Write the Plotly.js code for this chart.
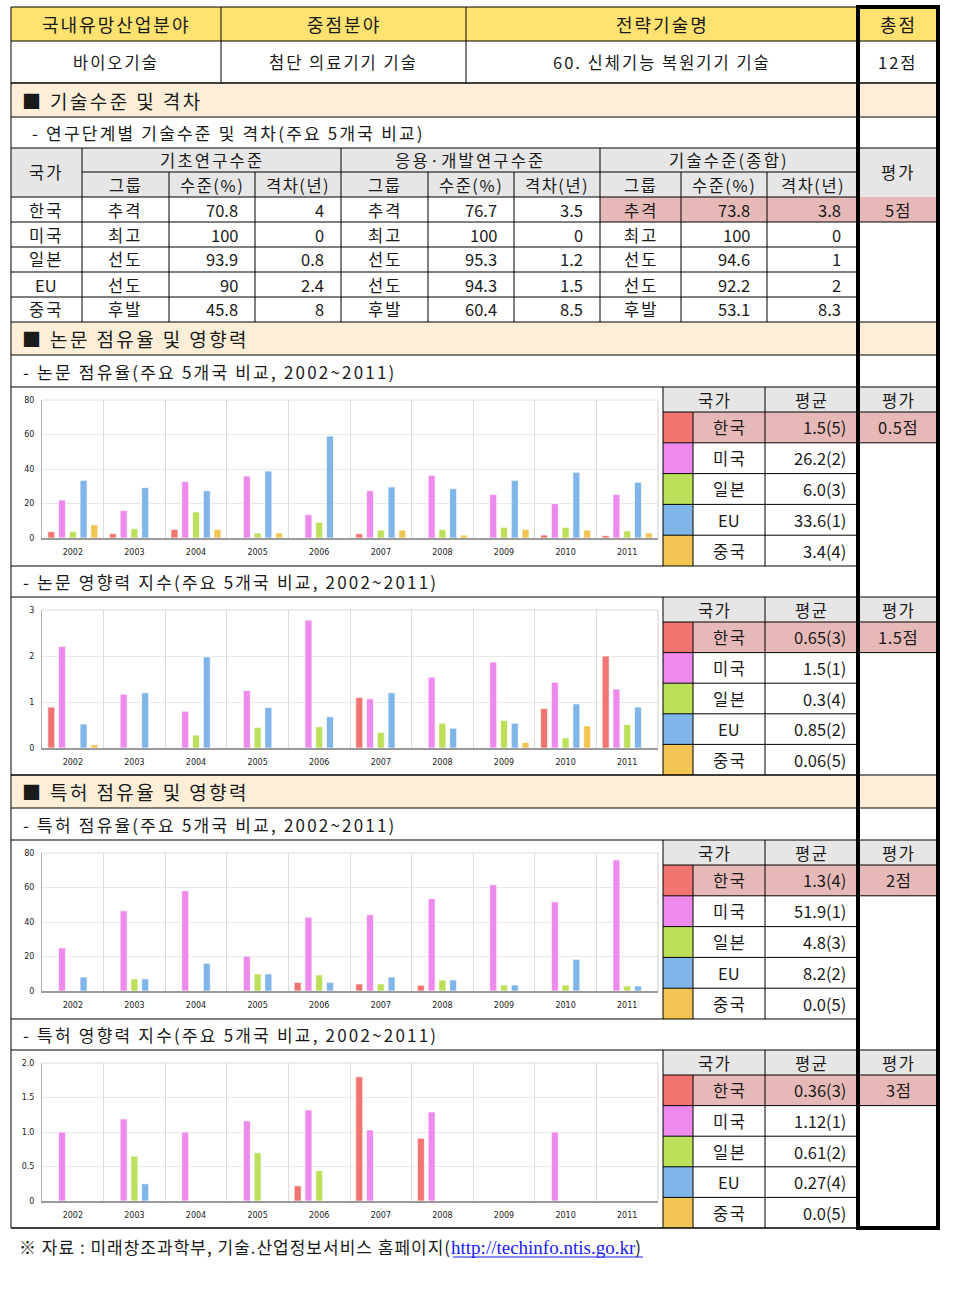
<!DOCTYPE html>
<html><head><meta charset="utf-8">
<script src="https://cdn.plot.ly/plotly-3.0.1.min.js"></script>
<style>body{margin:0;background:#fff}#chart{width:953px;height:1291px}</style>
</head><body><div id="chart"></div>
<script>
// ---------------- DATA ----------------
const years = ['2002','2003','2004','2005','2006','2007','2008','2009','2010','2011'];
const countries = ['한국','미국','일본','EU','중국'];

// header
const headerLabels = ['국내유망산업분야','중점분야','전략기술명','총점'];
const headerValues = ['바이오기술','첨단 의료기기 기술','60. 신체기능 복원기기 기술','12점'];

// technology level table
const levelGroupTitles = ['기초연구수준','응용·개발연구수준','기술수준(종합)'];
const levelSubTitles = ['그룹','수준(%)','격차(년)'];
const basicGroup = ['추격','최고','선도','선도','후발'];
const basicLevel = ['70.8','100','93.9','90','45.8'];
const basicGap = ['4','0','0.8','2.4','8'];
const appliedGroup = ['추격','최고','선도','선도','후발'];
const appliedLevel = ['76.7','100','95.3','94.3','60.4'];
const appliedGap = ['3.5','0','1.2','1.5','8.5'];
const totalGroup = ['추격','최고','선도','선도','후발'];
const totalLevel = ['73.8','100','94.6','92.2','53.1'];
const totalGap = ['3.8','0','1','2','8.3'];
const levelScore = '5점';

// section / subtitle texts
const sectionTitles = ['■ 기술수준 및 격차','■ 논문 점유율 및 영향력','■ 특허 점유율 및 영향력'];
const subTitles = ['- 연구단계별 기술수준 및 격차(주요 5개국 비교)',
  '- 논문 점유율(주요 5개국 비교, 2002~2011)','- 논문 영향력 지수(주요 5개국 비교, 2002~2011)',
  '- 특허 점유율(주요 5개국 비교, 2002~2011)','- 특허 영향력 지수(주요 5개국 비교, 2002~2011)'];

// chart series: rows = 한국, 미국, 일본, EU, 중국
const paperShare = [
  [3.7,2.5,5.0,0,0,2.5,0,0,1.7,1.4],
  [22.0,16.0,32.7,35.9,13.5,27.4,36.3,25.3,19.9,25.3],
  [3.7,5.4,15.1,2.9,9.1,4.6,5.0,6.2,6.2,4.1],
  [33.4,29.2,27.4,38.8,59.1,29.6,28.6,33.4,38.1,32.3],
  [7.7,0,5.0,2.9,0,4.6,1.7,5.0,4.6,2.9]
];
const paperImpact = [
  [0.89,0,0,0,0,1.10,0,0,0.86,2.0],
  [2.21,1.17,0.80,1.25,2.78,1.07,1.54,1.87,1.43,1.28],
  [0,0,0.28,0.45,0.46,0.34,0.54,0.60,0.22,0.51],
  [0.52,1.20,1.98,0.88,0.68,1.20,0.43,0.54,0.96,0.89],
  [0.07,0,0,0,0,0,0,0.12,0.48,0]
];
const patentShare = [
  [0,0,0,0,5.0,4.1,3.3,0,0,0],
  [25.0,46.5,58.1,20.2,42.8,44.2,53.5,61.6,51.7,76.0],
  [0,7.0,0,9.9,9.3,4.1,6.4,3.5,3.5,2.9],
  [8.1,7.0,16.1,9.9,5.0,8.1,6.4,3.5,18.4,2.9],
  [0,0,0,0,0,0,0,0,0,0]
];
const patentImpact = [
  [0,0,0,0,0.22,1.80,0.91,0,0,0],
  [1.0,1.19,1.0,1.16,1.32,1.03,1.29,0,1.0,0],
  [0,0.65,0,0.70,0.44,0,0,0,0,0],
  [0,0.25,0,0,0,0,0,0,0,0],
  [0,0,0,0,0,0,0,0,0,0]
];
const yTicks80 = [0,20,40,60,80];
const yTickText80 = ['0','20','40','60','80'];
const yTicks3 = [0,1,2,3];
const yTickText3 = ['0','1','2','3'];
const yTicks2 = [0,0.5,1,1.5,2];
const yTickText2 = ['0','0.5','1.0','1.5','2.0'];

// mini tables
const miniHeaders = ['국가','평균','평가'];
const paperShareAvg = ['1.5(5)','26.2(2)','6.0(3)','33.6(1)','3.4(4)'];
const paperImpactAvg = ['0.65(3)','1.5(1)','0.3(4)','0.85(2)','0.06(5)'];
const patentShareAvg = ['1.3(4)','51.9(1)','4.8(3)','8.2(2)','0.0(5)'];
const patentImpactAvg = ['0.36(3)','1.12(1)','0.61(2)','0.27(4)','0.0(5)'];
const chartScores = ['0.5점','1.5점','2점','3점'];

const sourceText = '※ 자료 : 미래창조과학부, 기술.산업정보서비스 홈페이지(';
const sourceUrl = 'http://techinfo.ntis.go.kr';

// ---------------- STYLE ----------------
const countryColors = ['#F07470','#EE8AEB','#BDE05A','#80B5EA','#F2C452'];
const YELLOW = '#FFE26F', BEIGE = '#FDEFD7', GRAY = '#E6E6E6', PINK = '#E6B8B7';
const F = 'Noto Sans CJK KR';
const TXT = '#1a1a1a';
const W = 953, H = 1291;
const X = x => x / W, Y = y => 1 - y / H;

const shapes = [], annotations = [];
function rect(x0,y0,x1,y1,fill){shapes.push({type:'rect',xref:'paper',yref:'paper',x0:X(x0),x1:X(x1),y0:Y(y1),y1:Y(y0),fillcolor:fill,line:{width:0},layer:'below'});}
function line(x0,y0,x1,y1,w,c){shapes.push({type:'line',xref:'paper',yref:'paper',x0:X(x0),y0:Y(y0),x1:X(x1),y1:Y(y1),line:{color:c||'#000',width:w||1}});}
function txt(x,y,s,size,anchor,ls,color){
  const useLs = ls && /[가-힣]/.test(s);
  const t = useLs ? '<span style="letter-spacing:'+ls+'px">'+s+'</span>' : s;
  annotations.push({xref:'paper',yref:'paper',x:X(x),y:Y(y),text:t,showarrow:false,xanchor:anchor||'center',yanchor:'middle',font:{family:F,size:size||16,color:color||TXT},borderpad:0});
}

const L = 11, R = 858, RR = 938;

// header rows
rect(L,7,RR,41,YELLOW);
const hdrX = [[L,221],[221,466],[466,R],[R,RR]];
hdrX.forEach((c,i)=>{ txt((c[0]+c[1])/2,24,headerLabels[i],18,'center',2); txt((c[0]+c[1])/2,62,headerValues[i],16.5,'center',2); });
line(221,7,221,83); line(466,7,466,83);
line(L,41,RR,41); line(L,83,RR,83);

// section rows
const sectionY = [[83,117],[322,355],[775,808]];
sectionY.forEach((s,i)=>{ rect(L,s[0],RR,s[1],BEIGE); txt(21,(s[0]+s[1])/2,sectionTitles[i],19,'left',2.4); line(L,s[1],RR,s[1]); line(L,s[0],RR,s[0]); });

// subtitle rows
const subY = [[117,148],[355,387],[566,597],[808,840],[1019,1050]];
subY.forEach((s,i)=>{ txt(i===0?31:22,(s[0]+s[1])/2,subTitles[i],17,'left',2.2); line(L,s[1],RR,s[1]); });

// technology level table
rect(L,148,RR,197,GRAY);
rect(600,197,RR,222,PINK);
const grpX = [[82,341],[341,600],[600,R]];
const subColX = [[82,169,255,341],[341,428,514,600],[600,681,767,R]];
txt(46,172,'국가',16.5,'center',2); txt(898,172,'평가',16.5,'center',2);
grpX.forEach((g,i)=>{ txt((g[0]+g[1])/2,160,levelGroupTitles[i],16.5,'center',2.2); });
subColX.forEach(c=>{ for(let k=0;k<3;k++) txt((c[k]+c[k+1])/2,185,levelSubTitles[k],16.5,'center',1.5); });
line(82,172,R,172);
line(82,148,82,322); line(341,148,341,322); line(600,148,600,322);
subColX.forEach(c=>{ line(c[1],172,c[1],322); line(c[2],172,c[2],322); });
const groupsArr = [basicGroup,appliedGroup,totalGroup];
const levelsArr = [basicLevel,appliedLevel,totalLevel];
const gapsArr = [basicGap,appliedGap,totalGap];
countries.forEach((c,r)=>{
  const yc = 197 + 25*r + 12.5;
  txt(46,yc,c,16.5,'center',2);
  subColX.forEach((cx,g)=>{
    txt((cx[0]+cx[1])/2,yc,groupsArr[g][r],16.5,'center',2);
    txt(cx[2]-16,yc,levelsArr[g][r],16.5,'right');
    txt(cx[3]-16,yc,gapsArr[g][r],16.5,'right');
  });
  line(L,197+25*r,R,197+25*r);
});
line(R,222,RR,222);
txt(898,209.5,levelScore,16.5,'center',1);

// chart blocks
const blocks = [[387,566],[597,775],[840,1019],[1050,1228]];
const avgArr = [paperShareAvg,paperImpactAvg,patentShareAvg,patentImpactAvg];
blocks.forEach((b,i)=>{
  const top=b[0], bot=b[1], hh=25, rh=(bot-top-hh)/5;
  rect(663,top,RR,top+hh,GRAY);
  rect(693,top+hh,RR,top+hh+rh,PINK);
  countries.forEach((c,r)=>{
    const y0=top+hh+rh*r;
    rect(663,y0,693,y0+rh,countryColors[r]);
    txt(729,y0+rh/2,c,16.5,'center',1.5);
    txt(847,y0+rh/2,avgArr[i][r],16.5,'right');
    line(663,y0,R,y0);
  });
  txt(714,top+hh/2,miniHeaders[0],16.5,'center',1.5); txt(811,top+hh/2,miniHeaders[1],16.5,'center',1.5); txt(898,top+hh/2,miniHeaders[2],16.5,'center',1.5);
  txt(898,top+hh+rh/2,chartScores[i],16.5,'center',0.5);
  line(R,top+hh,RR,top+hh); line(R,top+hh+rh,RR,top+hh+rh);
  line(663,top,663,bot); line(693,top+hh,693,bot); line(765,top,765,bot);
  line(L,bot,R,bot);
});

// outer borders
line(L,7,R,7); line(L,7,L,1228); line(L,1228,R,1228);
line(R,7,R,1228,4); line(RR,7,RR,1228,4); line(R-2,7,RR+2,7,4); line(R-2,1228,RR+2,1228,4);

// source
annotations.push({xref:'paper',yref:'paper',x:X(17),y:Y(1246),xanchor:'left',yanchor:'middle',showarrow:false,
  text: '<span style="letter-spacing:1px">'+sourceText + '</span><span style="font-family:Liberation Serif;color:#1a1aff;font-size:19px">'+sourceUrl+'</span>)',
  font:{family:F,size:17,color:TXT}});

// ---------------- CHARTS ----------------
const seriesSets = [paperShare,paperImpact,patentShare,patentImpact];
const plotY = [[400,538],[610,748],[853,991],[1063,1201]];
const tickSets = [[yTicks80,yTickText80],[yTicks3,yTickText3],[yTicks80,yTickText80],[yTicks2,yTickText2]];
const traces = [];
const layout = {
  width:W,height:H,margin:{l:0,r:0,t:0,b:0},paper_bgcolor:'#fff',plot_bgcolor:'#fff',
  showlegend:false,barmode:'group',bargap:0.126,bargroupgap:0.35,
  shapes:shapes,annotations:annotations,font:{family:F}
};
seriesSets.forEach((set,i)=>{
  const sx = i===0?'':String(i+1);
  set.forEach((vals,r)=>{
    traces.push({type:'bar',x:years,y:vals,name:countries[r],xaxis:'x'+sx,yaxis:'y'+sx,
      marker:{color:countryColors[r],line:{color:'rgba(255,255,255,0.7)',width:1}},hoverinfo:'x+y+name'});
  });
  const tv = tickSets[i];
  layout['xaxis'+sx] = {domain:[X(42),X(658)],anchor:'y'+sx,type:'category',tickson:'boundaries',
    showgrid:true,gridcolor:'#dcdcdc',gridwidth:1,showline:true,linecolor:'#9a9a9a',linewidth:1.5,
    ticks:'',ticklabelstandoff:6,tickfont:{family:'DejaVu Sans',size:8,color:'#222'},fixedrange:true};
  layout['yaxis'+sx] = {domain:[Y(plotY[i][1]),Y(plotY[i][0])],anchor:'x'+sx,range:[0,tv[0][tv[0].length-1]],
    tickvals:tv[0],ticktext:tv[1],showgrid:true,gridcolor:'#e8e8e8',zeroline:false,showline:true,linecolor:'#b5b5b5',
    ticks:'outside',ticklen:5,tickcolor:'rgba(0,0,0,0)',tickfont:{family:'DejaVu Sans',size:8,color:'#222'},fixedrange:true};
});
// right frame line of each plot
plotY.forEach(p=>{ line(658,p[0],658,p[1],1,'#cfcfcf'); line(42,p[0],658,p[0],1,'#dcdcdc'); });
// underline of URL
line(453,1257,643,1257,1,'#1a1aff');

Plotly.newPlot('chart',traces,layout,{displayModeBar:false,staticPlot:true});
</script></body></html>
